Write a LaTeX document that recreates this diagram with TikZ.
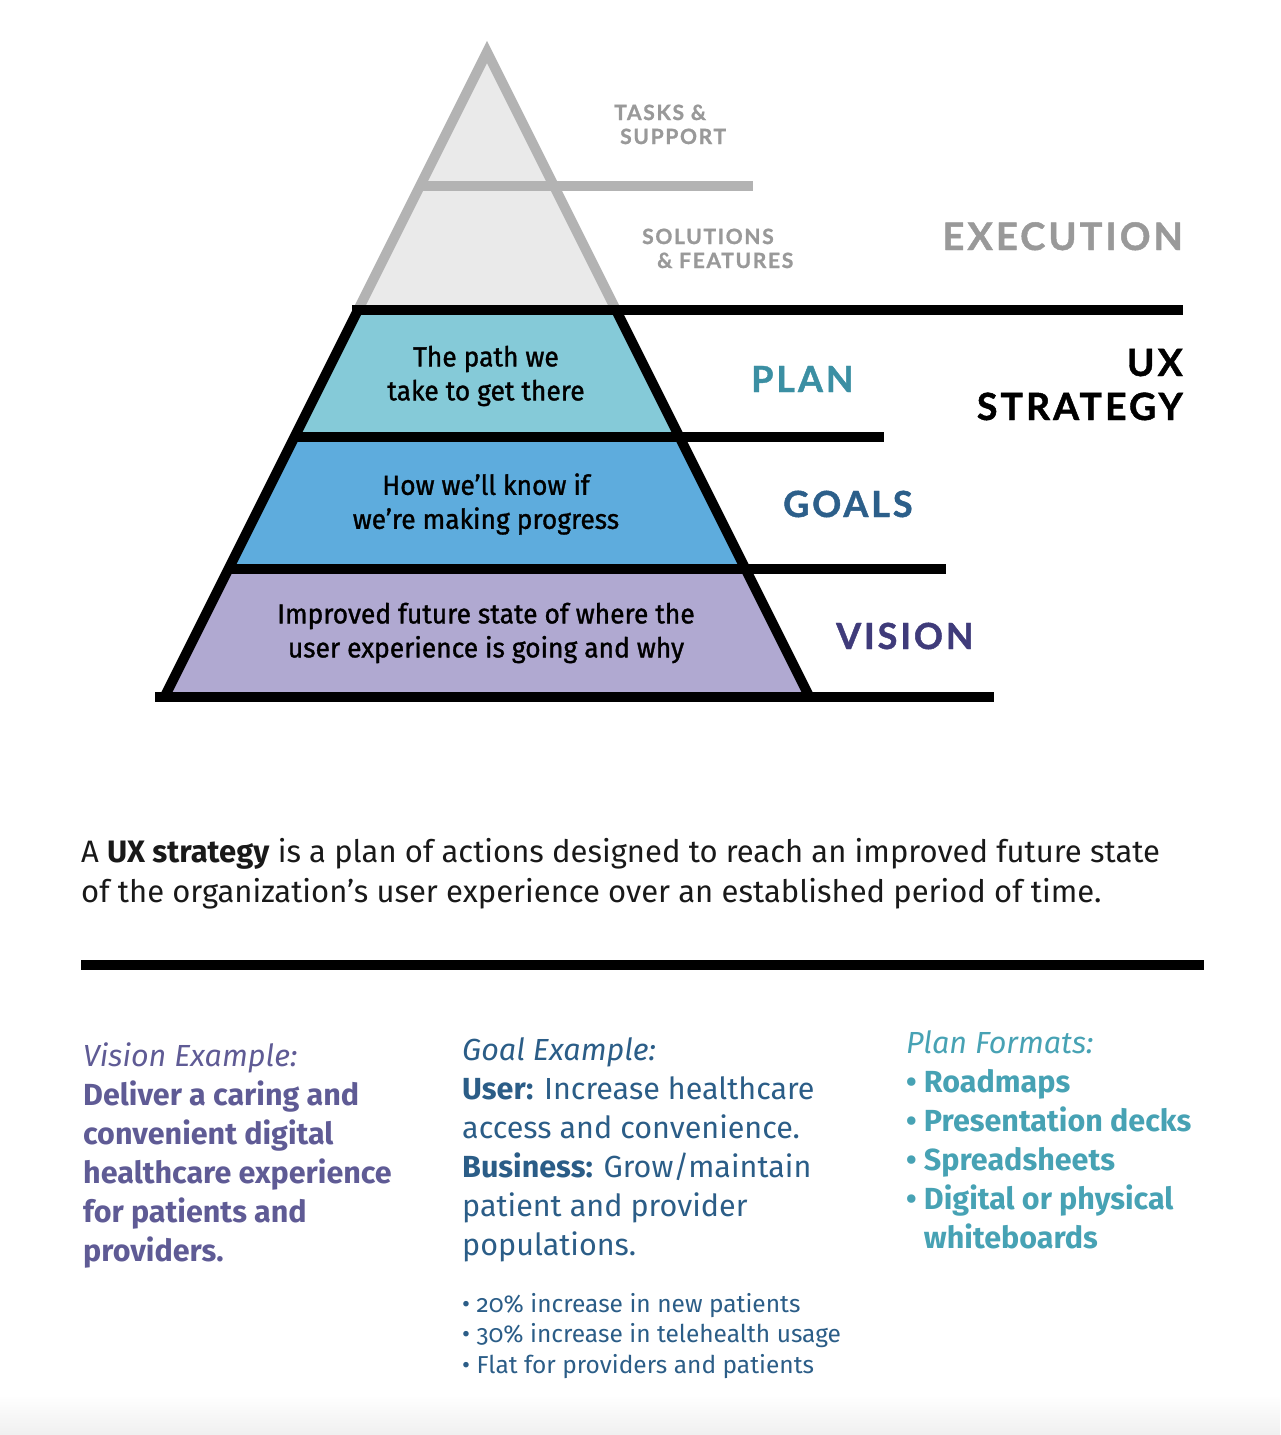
\documentclass[tikz,border=0pt]{standalone}
\usepackage{fontspec}
\setmainfont{Fira Sans}
\newfontfamily\headfont[LetterSpace=8,BoldFeatures={FakeBold=1.2}]{Lato}
\newfontfamily\condfont[FakeStretch=0.96,FakeBold=1.2]{Fira Sans}
\newfontfamily\numfont[Numbers=OldStyle]{Fira Sans}

\definecolor{grayline}{HTML}{B3B3B3}
\definecolor{grayfill}{HTML}{EAEAEA}
\definecolor{graytext}{HTML}{999999}
\definecolor{planfill}{HTML}{85CAD8}
\definecolor{goalfill}{HTML}{5EACDD}
\definecolor{visionfill}{HTML}{B0A9D1}
\definecolor{plantext}{HTML}{3B8FA3}
\definecolor{goaltext}{HTML}{2C5F8A}
\definecolor{visiontext}{HTML}{3F3B7A}
\definecolor{visionbody}{HTML}{5F5B95}
\definecolor{goalbody}{HTML}{2B5D87}
\definecolor{planbody}{HTML}{47A2B4}

\tikzset{
  tier/.style={font=\condfont\fontsize{27.5}{34}\selectfont, align=center},
  small label/.style={font=\headfont\bfseries\fontsize{21}{24}\selectfont, text=graytext, anchor=base west, align=left, inner sep=0pt},
  big label/.style={font=\headfont\bfseries\fontsize{36}{44}\selectfont, inner sep=0pt},
  thick rule/.style={line width=10pt},
  column/.style={anchor=base west, align=left, inner sep=0pt}
}

\begin{document}
\begin{tikzpicture}[x=1pt,y=-1pt]
  \useasboundingbox (0,0) rectangle (1280,1435);
  \shade[top color=white,bottom color=black!6] (0,1395) rectangle (1280,1435);

  % top of the pyramid
  \coordinate (apex) at (487,52);
  \coordinate (gl) at (358,310);
  \coordinate (gr) at (616,310);
  \filldraw[fill=grayfill, draw=grayline, line width=10pt, miter limit=10] (gl) -- (apex) -- (gr);
  \draw[grayline, line width=10pt] (420,186) -- (753,186);

  % strategy tiers
  \fill[planfill]   (358,310) -- (616,310) -- (679.5,437) -- (294.5,437) -- cycle;
  \fill[goalfill]   (294.5,437) -- (679.5,437) -- (745.5,569) -- (228.5,569) -- cycle;
  \fill[visionfill] (228.5,569) -- (745.5,569) -- (809.5,697) -- (164.5,697) -- cycle;
  \draw[thick rule] (352,310) -- (1183,310);
  \draw[thick rule] (294.5,437) -- (884,437);
  \draw[thick rule] (228.5,569) -- (946,569);
  \draw[thick rule] (155,697) -- (994,697);
  \draw[thick rule] (358,310) -- (164.5,697);
  \draw[thick rule] (616,310) -- (809.5,697);

  \node[tier] (plan) at (486,376) {The path we\\take to get there};
  \node[tier] (goals) at (486,504) {How we’ll know if\\we’re making progress};
  \node[tier] (vision) at (486,633) {Improved future state of where the\\user experience is going and why};

  % labels on the right (base = last line)
  \node[small label] (tasks) at (614,144) {TASKS \&\\\hspace*{6pt}SUPPORT};
  \node[small label] (solutions) at (642,268) {SOLUTIONS\\\hspace*{15pt}\& FEATURES};
  \node[big label, text=graytext, anchor=base east, font=\headfont\bfseries\fontsize{38}{44}\selectfont] (execution) at (1183,250) {EXECUTION};
  \node[big label, anchor=base east, align=right, font=\headfont\bfseries\fontsize{37.5}{44}\selectfont] (ux) at (1183,420) {UX\\STRATEGY};
  \node[big label, text=plantext, anchor=base west] (planlbl) at (751,392) {PLAN};
  \node[big label, text=goaltext, anchor=base west] (goalslbl) at (783,517) {GOALS};
  \node[big label, text=visiontext, anchor=base west] (visionlbl) at (836,649) {VISION};

  % definition
  \node[column, font=\fontsize{31}{40}\selectfont, text=black!90] (definition) at (81,902)
    {A \textbf{UX strategy} is a plan of actions designed to reach an improved future state\\
     of the organization’s user experience over an established period of time.};
  \draw[thick rule] (81,965) -- (1204,965);

  % examples
  \node[column, font=\fontsize{30.5}{39}\selectfont, text=visionbody] (visionex) at (83,1261)
    {\textit{Vision Example:}\\
     \textbf{Deliver a caring and}\\
     \textbf{convenient digital}\\
     \textbf{healthcare experience}\\
     \textbf{for patients and}\\
     \textbf{providers.}};
  \node[column, font=\fontsize{30.5}{39}\selectfont, text=goalbody] (goalex) at (462,1255)
    {\textit{Goal Example:}\\
     \textbf{User:} Increase healthcare\\
     access and convenience.\\
     \textbf{Business:} Grow/maintain\\
     patient and provider\\
     populations.};
  \node[column, font=\numfont\fontsize{24.5}{30.5}\selectfont, text=goalbody] (goalbul) at (462,1373)
    {• 20\% increase in new patients\\
     • 30\% increase in telehealth usage\\
     • Flat for providers and patients};
  \node[column, font=\fontsize{30.5}{39}\selectfont, text=planbody] (planex) at (906,1248)
    {\textit{Plan Formats:}\\
     \textbf{• Roadmaps}\\
     \textbf{• Presentation decks}\\
     \textbf{• Spreadsheets}\\
     \textbf{• Digital or physical}\\
     \textbf{\phantom{• }whiteboards}};
\end{tikzpicture}
\end{document}
